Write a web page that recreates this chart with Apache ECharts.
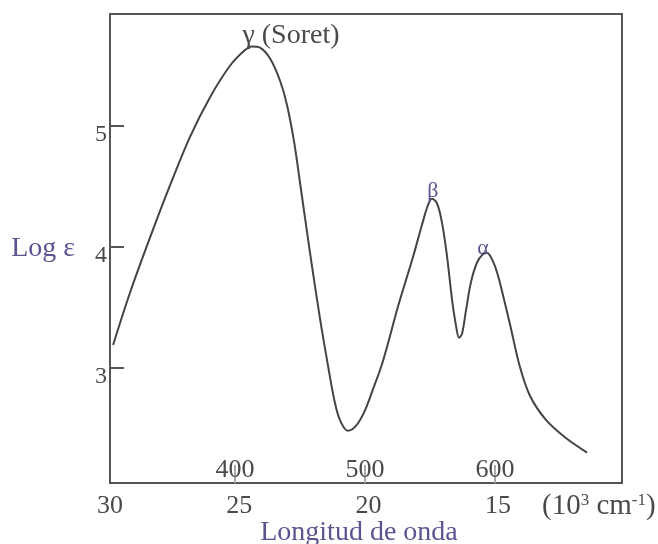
<!DOCTYPE html>
<html>
<head>
<meta charset="utf-8">
<script src="https://cdn.jsdelivr.net/npm/echarts@6/dist/echarts.min.js"></script>
<style>html,body{margin:0;padding:0;background:#fff}#c{width:658px;height:544px}</style>
</head>
<body>
<div id="c"></div>
<script>
// Wavenumber (10^3 cm^-1) and log epsilon
var wavenumber = [29.88, 29.23, 28.45, 27.68, 26.91, 26.13, 25.36, 24.78, 24.51, 24.20, 23.81, 23.43, 23.16, 22.88, 22.65, 22.27, 21.88, 21.57, 21.34, 21.11, 20.80, 20.49, 20.18, 19.87, 19.44, 18.86, 18.28, 17.94, 17.70, 17.55, 17.35, 17.16, 16.97, 16.77, 16.62, 16.50, 16.39, 16.23, 16.04, 15.81, 15.58, 15.42, 15.23, 15.03, 14.80, 14.53, 14.15, 13.76, 13.14, 12.37, 11.55];
var logEps     = [3.19, 3.62, 4.08, 4.51, 4.91, 5.24, 5.50, 5.63, 5.66, 5.65, 5.56, 5.38, 5.18, 4.87, 4.53, 3.96, 3.41, 3.02, 2.75, 2.57, 2.48, 2.52, 2.63, 2.80, 3.06, 3.51, 3.92, 4.18, 4.35, 4.40, 4.36, 4.20, 3.93, 3.56, 3.35, 3.25, 3.28, 3.48, 3.71, 3.87, 3.94, 3.95, 3.90, 3.79, 3.60, 3.36, 3.01, 2.77, 2.57, 2.42, 2.30];

var yTicks = [3, 4, 5];
var xTicks = [30, 25, 20, 15];
var nmLabels = ['400', '500', '600'];
var nmPos = [25.17, 20.14, 15.11];

var annoText = ['γ (Soret)', 'β', 'α'];
var annoX = [24.51, 17.55, 15.42];
var annoY = [5.66, 4.40, 3.95];

var serif = '"Liberation Serif", "DejaVu Serif", serif';
var gray = '#4a4a4a';
var purple = '#5b5490';

var pts = wavenumber.map(function (w, i) { return [w, logEps[i]]; });

var annoOffsets = [[39, -11], [1, -7], [-4, -5]];
var annoColors = [gray, purple, purple];
var annoSizes = [28, 22, 22];
var markData = annoText.map(function (t, i) {
  return {
    coord: [annoX[i], annoY[i]],
    label: {
      show: true, formatter: t, position: 'inside', offset: annoOffsets[i],
      color: annoColors[i], fontSize: annoSizes[i], fontFamily: serif
    }
  };
});

var chart = echarts.init(document.getElementById('c'), null, {renderer: 'canvas'});
chart.setOption({
  backgroundColor: '#fff',
  animation: false,
  grid: {left: 110, right: 36, top: 14, bottom: 61, outerBoundsMode: 'none', containLabel: false,
         show: true, borderColor: '#555', borderWidth: 2, backgroundColor: 'transparent'},
  xAxis: [{
    type: 'value', min: 10.2, max: 30, inverse: true,
    name: 'Longitud de onda', nameLocation: 'middle', nameGap: 36, nameMoveOverlap: false,
    nameTextStyle: {color: purple, fontSize: 28, fontFamily: serif, padding: [0, 14, 0, 0]},
    axisLine: {show: true, lineStyle: {color: '#555', width: 2}},
    axisTick: {show: false},
    splitLine: {show: false},
    axisLabel: {customValues: xTicks, color: gray, fontSize: 26, fontFamily: serif, margin: 10}
  }, {
    type: 'value', min: 10.2, max: 30, inverse: true, position: 'bottom',
    axisLine: {show: false},
    axisTick: {show: true, inside: true, length: 18, customValues: nmPos, lineStyle: {color: '#aaa', width: 2}},
    splitLine: {show: false},
    axisLabel: {
      inside: true, margin: 0, customValues: nmPos, color: gray, fontSize: 26, fontFamily: serif,
      formatter: function (v) {
        for (var i = 0; i < nmPos.length; i++) { if (Math.abs(nmPos[i] - v) < 1e-6) return nmLabels[i]; }
        return '';
      }
    }
  }],
  yAxis: {
    type: 'value', min: 2.048, max: 5.928,
    name: 'Log ε', nameLocation: 'middle', nameRotate: 0, nameGap: 35, nameMoveOverlap: false,
    nameTextStyle: {color: purple, fontSize: 28, fontFamily: serif, padding: [0, 0, 24, 0]},
    axisLine: {show: true, lineStyle: {color: '#555', width: 2}},
    axisTick: {show: true, inside: true, length: 14, customValues: yTicks, lineStyle: {color: '#555', width: 2}},
    splitLine: {show: false},
    axisLabel: {customValues: yTicks, color: gray, fontSize: 24, fontFamily: serif, margin: 3, verticalAlign: 'top', lineHeight: 18}
  },
  series: [{
    type: 'line', data: pts, smooth: 0.35, symbol: 'none',
    lineStyle: {color: '#444', width: 2},
    markPoint: {symbol: 'circle', symbolSize: 0, data: markData}
  }],
  graphic: [{
    type: 'text', left: 542, top: 492,
    style: {
      text: '(10{sup|3} cm{sup|-1})', fill: gray, fontSize: 29, fontFamily: serif,
      rich: {sup: {fontSize: 17, fontFamily: serif, fill: gray, verticalAlign: 'top', padding: [0, 0, 10, 0]}}
    }
  }]
});
</script>
</body>
</html>
